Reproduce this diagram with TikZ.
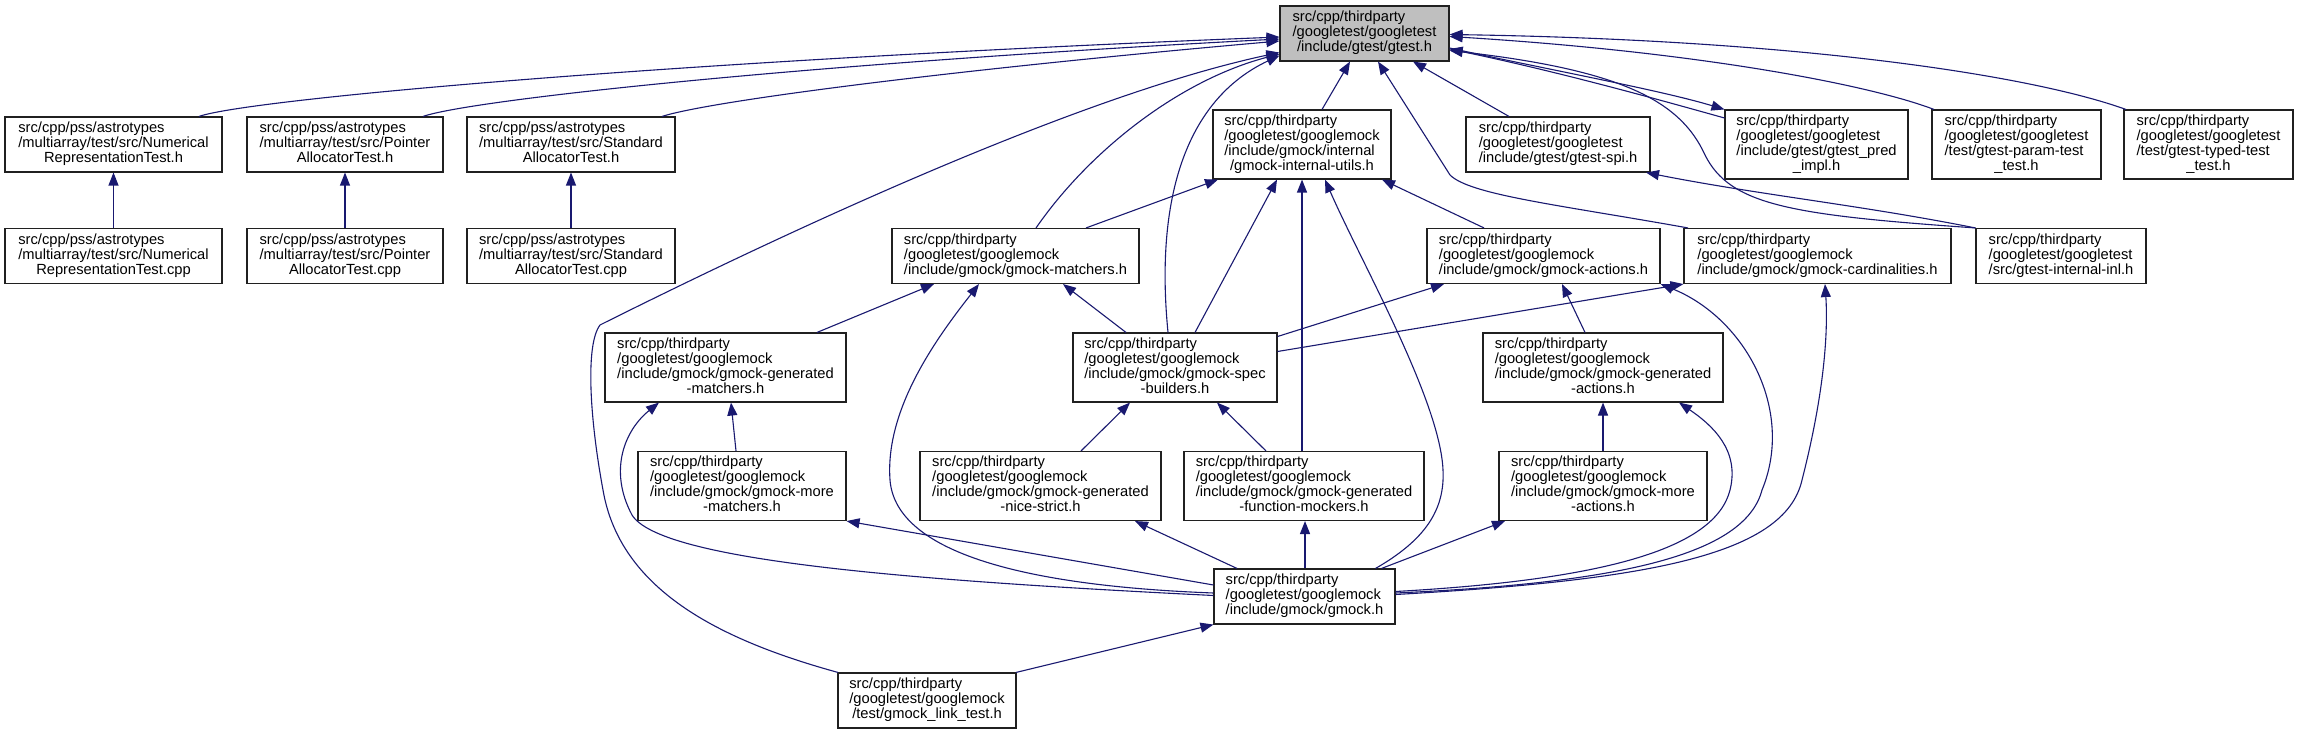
\documentclass[tikz,border=0pt]{standalone}
\usepackage{fontspec}
\setmainfont{Liberation Sans}
\usetikzlibrary{arrows.meta}
\definecolor{edgecol}{HTML}{191970}
\definecolor{mainfill}{HTML}{BFBFBF}
\definecolor{boxline}{HTML}{202020}
\newcommand\nodefont{\fontsize{14.7pt}{14.5pt}\selectfont}
\newcommand\nlines[1]{\begin{tabular}{@{}l@{}}#1\end{tabular}}
\newcommand\cl[1]{\multicolumn{1}{@{}c@{}}{#1}}
\begin{document}
\begin{tikzpicture}[x=1pt,y=-1pt,
  box/.style={draw=boxline, fill=white, line width=1.1pt, inner sep=0pt, font=\nodefont},
  hthree/.style={minimum height=55pt},
  hfour/.style={minimum height=69pt},
  dep/.style={draw=edgecol, line width=1.1pt, -{Triangle[length=13pt,width=10pt]}}]
\fill[white] (0,0) rectangle (2298,735);
\useasboundingbox (0,0) rectangle (2298,735);
% rank 0
\node[box,hthree,fill=mainfill,minimum width=169pt] (gtest) at (1364.5,33.5) {\nlines{src/cpp/thirdparty\\/googletest/googletest\\\cl{/include/gtest/gtest.h}}};
% rank 1
\node[box,hthree,minimum width=217pt] (numh) at (113.5,144.5) {\nlines{src/cpp/pss/astrotypes\\/multiarray/test/src/Numerical\\\cl{RepresentationTest.h}}};
\node[box,hthree,minimum width=196pt] (ptrh) at (345,144.5) {\nlines{src/cpp/pss/astrotypes\\/multiarray/test/src/Pointer\\\cl{AllocatorTest.h}}};
\node[box,hthree,minimum width=208pt] (stdh) at (571,144.5) {\nlines{src/cpp/pss/astrotypes\\/multiarray/test/src/Standard\\\cl{AllocatorTest.h}}};
\node[box,hfour,minimum width=178pt] (utils) at (1302,144.5) {\nlines{src/cpp/thirdparty\\/googletest/googlemock\\/include/gmock/internal\\\cl{/gmock-internal-utils.h}}};
\node[box,hthree,minimum width=184pt] (spi) at (1558,144.5) {\nlines{src/cpp/thirdparty\\/googletest/googletest\\\cl{/include/gtest/gtest-spi.h}}};
\node[box,hfour,minimum width=183pt] (pred) at (1816.5,144.5) {\nlines{src/cpp/thirdparty\\/googletest/googletest\\/include/gtest/gtest\_pred\\\cl{\_impl.h}}};
\node[box,hfour,minimum width=169pt] (param) at (2016.5,144.5) {\nlines{src/cpp/thirdparty\\/googletest/googletest\\/test/gtest-param-test\\\cl{\_test.h}}};
\node[box,hfour,minimum width=169pt] (typed) at (2208.5,144.5) {\nlines{src/cpp/thirdparty\\/googletest/googletest\\/test/gtest-typed-test\\\cl{\_test.h}}};
% rank 2
\node[box,hthree,minimum width=217pt] (numc) at (113.5,256) {\nlines{src/cpp/pss/astrotypes\\/multiarray/test/src/Numerical\\\cl{RepresentationTest.cpp}}};
\node[box,hthree,minimum width=196pt] (ptrc) at (345,256) {\nlines{src/cpp/pss/astrotypes\\/multiarray/test/src/Pointer\\\cl{AllocatorTest.cpp}}};
\node[box,hthree,minimum width=208pt] (stdc) at (571,256) {\nlines{src/cpp/pss/astrotypes\\/multiarray/test/src/Standard\\\cl{AllocatorTest.cpp}}};
\node[box,hthree,minimum width=247pt] (matchers) at (1015.5,256) {\nlines{src/cpp/thirdparty\\/googletest/googlemock\\\cl{/include/gmock/gmock-matchers.h}}};
\node[box,hthree,minimum width=233pt] (actions) at (1543.5,256) {\nlines{src/cpp/thirdparty\\/googletest/googlemock\\\cl{/include/gmock/gmock-actions.h}}};
\node[box,hthree,minimum width=267pt] (card) at (1817.5,256) {\nlines{src/cpp/thirdparty\\/googletest/googlemock\\\cl{/include/gmock/gmock-cardinalities.h}}};
\node[box,hthree,minimum width=170pt] (inl) at (2061,256) {\nlines{src/cpp/thirdparty\\/googletest/googletest\\\cl{/src/gtest-internal-inl.h}}};
% rank 3
\node[box,hfour,minimum width=241pt] (genm) at (725.5,367.5) {\nlines{src/cpp/thirdparty\\/googletest/googlemock\\/include/gmock/gmock-generated\\\cl{-matchers.h}}};
\node[box,hfour,minimum width=204pt] (spec) at (1175,367.5) {\nlines{src/cpp/thirdparty\\/googletest/googlemock\\/include/gmock/gmock-spec\\\cl{-builders.h}}};
\node[box,hfour,minimum width=240pt] (gena) at (1603,367.5) {\nlines{src/cpp/thirdparty\\/googletest/googlemock\\/include/gmock/gmock-generated\\\cl{-actions.h}}};
% rank 4
\node[box,hfour,minimum width=208pt] (morem) at (742,486) {\nlines{src/cpp/thirdparty\\/googletest/googlemock\\/include/gmock/gmock-more\\\cl{-matchers.h}}};
\node[box,hfour,minimum width=241pt] (nice) at (1040.5,486) {\nlines{src/cpp/thirdparty\\/googletest/googlemock\\/include/gmock/gmock-generated\\\cl{-nice-strict.h}}};
\node[box,hfour,minimum width=240pt] (func) at (1304,486) {\nlines{src/cpp/thirdparty\\/googletest/googlemock\\/include/gmock/gmock-generated\\\cl{-function-mockers.h}}};
\node[box,hfour,minimum width=208pt] (morea) at (1603,486) {\nlines{src/cpp/thirdparty\\/googletest/googlemock\\/include/gmock/gmock-more\\\cl{-actions.h}}};
% rank 5, 6
\node[box,hthree,minimum width=181pt] (gmock) at (1304.5,596.5) {\nlines{src/cpp/thirdparty\\/googletest/googlemock\\\cl{/include/gmock/gmock.h}}};
\node[box,hthree,minimum width=178pt] (link) at (927,700.5) {\nlines{src/cpp/thirdparty\\/googletest/googlemock\\\cl{/test/gmock\_link\_test.h}}};

% edges into gtest.h
\draw[dep] ([xshift=85.5pt]numh.north) .. controls (245,100) and (650,62) .. ([yshift=-3.5pt]gtest.west);
\draw[dep] ([xshift=78pt]ptrh.north) .. controls (470,100) and (800,64) .. ([yshift=-5.5pt]gtest.west);
\draw[dep] ([xshift=91pt]stdh.north) .. controls (710,101) and (950,70) .. ([yshift=-7.5pt]gtest.west);
\draw[dep] ([xshift=-89pt]link.north) .. controls (720,640) and (620,590) .. (603,490) .. controls (590,420) and (585,345) .. (600,325) .. controls (790,230) and (1080,95) .. ([yshift=-19pt]gtest.west);
\draw[dep] ([xshift=20.5pt]matchers.north) .. controls (1090,150) and (1180,80) .. ([yshift=-20.5pt]gtest.west);
\draw[dep] ([xshift=-7pt]spec.north) .. controls (1155,200) and (1185,100) .. ([yshift=-22pt]gtest.west);
\draw[dep] ([xshift=20pt]utils.north) -- ([xshift=-14.5pt]gtest.south);
\draw[dep] ([xshift=-49pt]spi.north) -- ([xshift=48.5pt]gtest.south);
\draw[dep] ([xshift=-129.5pt]card.north) .. controls (1560,205) and (1470,195) .. (1450,175) -- ([xshift=13.5pt]gtest.south);
\draw[dep] ([yshift=-14.5pt]gtest.east) .. controls (1550,70) and (1660,90) .. (pred.north west);
\draw[dep] ([yshift=26.5pt]pred.west) .. controls (1660,100) and (1560,72) .. ([yshift=-15.5pt]gtest.east);
\draw[dep] ([xshift=-82.5pt]param.north) .. controls (1870,85) and (1700,52) .. ([yshift=-3pt]gtest.east);
\draw[dep] ([xshift=-82.5pt]typed.north) .. controls (2030,75) and (1800,40) .. ([yshift=-1pt]gtest.east);
\draw[dep] (inl.north west) .. controls (1790,215) and (1730,205) .. (1705,155) .. controls (1680,100) and (1620,70) .. ([yshift=-17pt]gtest.east);
\draw[dep] (inl.north west) .. controls (1860,205) and (1760,195) .. ([xshift=88pt]spi.south);
% cpp -> h
\draw[dep] (numc) -- (numh);
\draw[dep] (ptrc) -- (ptrh);
\draw[dep] (stdc) -- (stdh);
% into internal utils
\draw[dep] ([xshift=70.5pt]matchers.north) -- ([xshift=-84pt]utils.south);
\draw[dep] ([xshift=20pt]spec.north) -- ([xshift=-25pt]utils.south);
\draw[dep] ([xshift=-2pt]func.north) -- (utils.south);
\draw[dep] ([xshift=71pt]gmock.north) .. controls (1425,540) and (1445,510) .. (1443,470) .. controls (1440,400) and (1360,260) .. ([xshift=23pt]utils.south);
\draw[dep] ([xshift=-59.5pt]actions.north) -- ([xshift=80pt]utils.south);
% into matchers
\draw[dep] ([xshift=91.5pt]genm.north) -- ([xshift=-81.5pt]matchers.south);
\draw[dep] ([yshift=3.5pt]gmock.west) .. controls (1000,585) and (895,545) .. (890,480) .. controls (885,410) and (935,340) .. ([xshift=-36.5pt]matchers.south);
\draw[dep] ([yshift=1pt]gmock.west) .. controls (900,580) and (660,560) .. (632,515) .. controls (608,470) and (625,430) .. ([xshift=-66.5pt]genm.south);
\draw[dep] ([xshift=-49pt]spec.north) -- ([xshift=47.5pt]matchers.south);
% into actions / cardinalities / generated actions
\draw[dep] ([yshift=31pt]spec.east) -- ([xshift=-99.5pt]actions.south);
\draw[dep] ([xshift=-18pt]gena.north) -- ([xshift=18.5pt]actions.south);
\draw[dep] ([yshift=3.5pt]gmock.east) .. controls (1620,583) and (1745,555) .. (1762,490) .. controls (1795,410) and (1745,318) .. (actions.south east);
\draw[dep] ([yshift=16pt]spec.east) -- (card.south west);
\draw[dep] ([yshift=2pt]gmock.east) .. controls (1650,580) and (1785,555) .. (1802,480) .. controls (1825,390) and (1828,330) .. ([xshift=7.5pt]card.south);
\draw[dep] ([yshift=5pt]gmock.east) .. controls (1600,580) and (1715,550) .. (1730,490) .. controls (1740,450) and (1712,425) .. ([xshift=76pt]gena.south);
\draw[dep] (morea) -- (gena);
% others
\draw[dep] ([xshift=-6pt]morem.north) -- ([xshift=5.5pt]genm.south);
\draw[dep] ([xshift=40.5pt]nice.north) -- ([xshift=-45pt]spec.south);
\draw[dep] ([xshift=-38pt]func.north) -- ([xshift=42pt]spec.south);
\draw[dep] ([yshift=11.5pt]gmock.west) -- (morem.south east);
\draw[dep] ([xshift=-67.5pt]gmock.north) -- ([xshift=94.5pt]nice.south);
\draw[dep] ([xshift=0.5pt]gmock.north) -- ([xshift=1pt]func.south);
\draw[dep] ([xshift=77pt]gmock.north) -- ([xshift=-98pt]morea.south);
\draw[dep] ([xshift=89pt]link.north) -- (gmock.south west);
\end{tikzpicture}
\end{document}
